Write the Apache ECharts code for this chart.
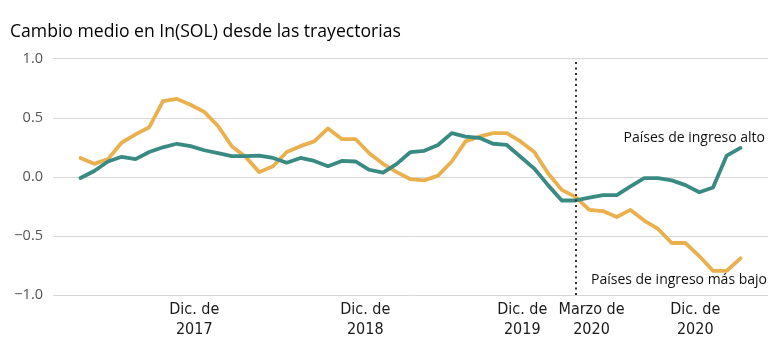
<!DOCTYPE html>
<html>
<head>
<meta charset="utf-8">
<script src="https://cdn.jsdelivr.net/npm/echarts@6/dist/echarts.min.js"></script>
<style>
  html, body { margin: 0; padding: 0; background: #ffffff; }
  #chart { width: 780px; height: 360px; }
</style>
</head>
<body>
<div id="chart"></div>
<script>
// Monthly observations, March 2017 (index 0) to March 2021 (index 48)
var lowIncome = [0.16, 0.11, 0.15, 0.29, 0.36, 0.42, 0.64, 0.66, 0.61, 0.55,
  0.43, 0.26, 0.17, 0.04, 0.09, 0.21, 0.26, 0.30, 0.41, 0.32,
  0.32, 0.20, 0.11, 0.04, -0.02, -0.03, 0.01, 0.13, 0.30, 0.34,
  0.37, 0.37, 0.30, 0.21, 0.03, -0.11, -0.17, -0.28, -0.29, -0.34,
  -0.28, -0.37, -0.44, -0.56, -0.56, -0.67, -0.795, -0.795, -0.69];
var highIncome = [-0.01, 0.05, 0.13, 0.17, 0.15, 0.21, 0.25, 0.28, 0.26, 0.225,
  0.20, 0.175, 0.175, 0.18, 0.16, 0.12, 0.16, 0.135, 0.09, 0.135,
  0.13, 0.06, 0.035, 0.11, 0.21, 0.22, 0.27, 0.37, 0.34, 0.33,
  0.28, 0.27, 0.17, 0.07, -0.07, -0.20, -0.20, -0.175, -0.155, -0.155,
  -0.08, -0.01, -0.01, -0.03, -0.07, -0.13, -0.09, 0.18, 0.245];

var xTickIndex = [9, 21, 33, 36, 45];
var xTickLabels = ['Dic. de\n2017', 'Dic. de\n2018', 'Dic. de\n2019', 'Marzo de\n2020', 'Dic. de\n2020'];
var markerIndex = 36; // Marzo de 2020
var yTicks = [-1.0, -0.5, 0.0, 0.5, 1.0];

var titleText = 'Cambio medio en In(SOL) desde las trayectorias';
var highName = 'Países de ingreso alto';
var lowName = 'Países de ingreso más bajo';

// ---- styles ----
var narrow = "'Liberation Sans Narrow', 'DejaVu Sans Condensed', sans-serif";
var labelPads = [[0, 20, 0, 0], [0, 8, 0, 0], [0, 24, 0, 0], [0, 0, 0, 32], [0, 8, 0, 0]];
var rich = {};
labelPads.forEach(function (p, k) {
  rich['s' + k] = { fontFamily: narrow, fontSize: 16, color: '#1a1a1a', lineHeight: 20, padding: p };
});

function toPairs(arr) { return arr.map(function (v, i) { return [i, v]; }); }

var chart = echarts.init(document.getElementById('chart'), null, { renderer: 'canvas' });
chart.setOption({
  animation: false,
  backgroundColor: '#ffffff',
  title: {
    text: titleText, left: 5, top: 18,
    textStyle: { fontFamily: "'Open Sans', sans-serif", fontSize: 17.6, fontWeight: 'normal', color: '#000000' }
  },
  grid: { left: 53, right: 12, top: 58.7, bottom: 65, containLabel: false },
  xAxis: {
    type: 'value', min: -2, max: 50,
    splitLine: { show: false }, axisLine: { show: false }, axisTick: { show: false },
    axisLabel: {
      customValues: xTickIndex,
      margin: 5,
      formatter: function (v) {
        var k = xTickIndex.indexOf(Math.round(v));
        if (k < 0) return '';
        return xTickLabels[k].split('\n').map(function (s) { return '{s' + k + '|' + s + '}'; }).join('\n');
      },
      rich: rich
    }
  },
  yAxis: {
    type: 'value', min: yTicks[0], max: yTicks[yTicks.length - 1], interval: 0.5,
    axisLine: { show: false }, axisTick: { show: false },
    splitLine: { lineStyle: { color: '#d6d6d6', width: 1 } },
    axisLabel: {
      margin: 10, color: '#555555', fontSize: 14.5, fontFamily: "'Open Sans', sans-serif",
      formatter: function (v) { return v.toFixed(1).replace('-', '\u2212'); }
    }
  },
  series: [
    {
      name: lowName, type: 'line', data: toPairs(lowIncome), symbol: 'none',
      lineStyle: { color: '#E9B04D', width: 3.8, cap: 'round', join: 'round' },
      itemStyle: { color: '#E9B04D' }, z: 2,
      markLine: {
        silent: true, symbol: ['none', 'none'], animation: false,
        label: { show: false },
        lineStyle: { type: [2, 3.5], color: '#333333', width: 2 },
        data: [{ xAxis: markerIndex }]
      }
    },
    {
      name: highName, type: 'line', data: toPairs(highIncome), symbol: 'none',
      lineStyle: { color: '#3A8A84', width: 3.8, cap: 'round', join: 'round' },
      itemStyle: { color: '#3A8A84' }, z: 3
    }
  ],
  graphic: [
    { type: 'text', right: 15, top: 131, style: { text: highName, font: "14px 'Open Sans', sans-serif", fill: '#111111' } },
    { type: 'text', right: 13, top: 273, style: { text: lowName, font: "14px 'Open Sans', sans-serif", fill: '#111111' } }
  ]
});
</script>
</body>
</html>
